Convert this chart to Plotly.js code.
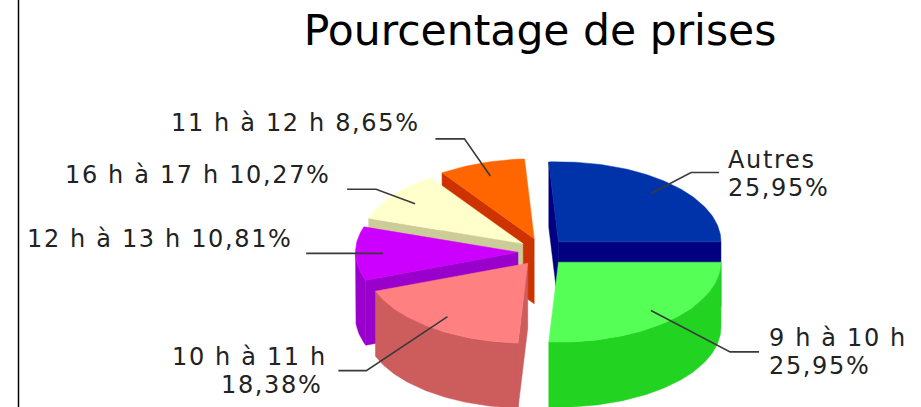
<!DOCTYPE html>
<html><head><meta charset="utf-8">
<script src="https://cdn.plot.ly/plotly-3.0.1.min.js"></script>
<style>
html,body{margin:0;padding:0;background:#fff;overflow:hidden}
#chart{width:921px;height:407px}
.annotation-text{letter-spacing:1.65px}
</style></head><body><div id="chart"></div>
<script>
// Data, clockwise from due east
const categories = ['9 h à 10 h','10 h à 11 h','12 h à 13 h','16 h à 17 h','11 h à 12 h','Autres'];
const values = [25.95,18.38,10.81,10.27,8.65,25.95];
const topColors = ['#55FF55','#FF8080','#CC00FF','#FFFFCC','#FF6600','#0033AA'];
const sideColors = ['#22D322','#CD5C5C','#9900CC','#CCCC99','#CC3300','#000080'];
// Back-to-front paint order
const paintOrder = [5,4,3,2,1,0];

// Pie geometry (pixel-scaled axes)
const cx=542, cy=252, rx=162.5, ry=80, depth=65, explodeX=24, explodeY=14;
const labelSpec = [
  {reach:1.54, anchor:'left', x:[767,767], y:[338,366], tail:29},
  {reach:1.67, anchor:'right', x:[329,324], y:[357,385], tail:-28},
  {reach:1.0, anchor:'right', x:[295], y:[239], tail:-77},
  {reach:1.13, anchor:'right', x:[333], y:[175], tail:-29},
  {reach:1.32, anchor:'right', x:[422], y:[123], tail:-29},
  {reach:1.19, anchor:'left', x:[726,726], y:[160,188], tail:28}
];

const total = values.reduce((a,b)=>a+b,0);
let acc = 0;
const slices = values.map((v,i)=>{
  const a0 = acc/total*2*Math.PI; acc += v;
  const a1 = acc/total*2*Math.PI; const mid=(a0+a1)/2;
  return {i,a0,a1,mid,ax:cx+explodeX*Math.cos(mid),ay:cy+explodeY*Math.sin(mid)};
});
function arc(s,a,b){
  const pts=[]; const n=Math.max(2,Math.ceil((b-a)/0.02));
  for(let k=0;k<=n;k++){const t=a+(b-a)*k/n;pts.push([s.ax+rx*Math.cos(t),s.ay+ry*Math.sin(t)]);}
  return pts;
}
function poly(pts,color){
  return {type:'scatter',mode:'lines',x:pts.map(p=>p[0]).concat(pts[0][0]),y:pts.map(p=>p[1]).concat(pts[0][1]),
    fill:'toself',fillcolor:color,line:{width:0.5,color:color},hoverinfo:'skip',showlegend:false};
}
const traces=[];
paintOrder.forEach(idx=>{
  const s=slices[idx], side=sideColors[idx];
  const wall=t=>{
    const rim=[s.ax+rx*Math.cos(t),s.ay+ry*Math.sin(t)];
    traces.push(poly([[s.ax,s.ay],rim,[rim[0],rim[1]+depth],[s.ax,s.ay+depth]],side));
  };
  if(Math.cos(s.a0)<0) wall(s.a0);
  if(Math.cos(s.a1)>0) wall(s.a1);
  const lo=Math.max(s.a0,0), hi=Math.min(s.a1,Math.PI);
  if(hi>lo){
    const r=arc(s,lo,hi);
    traces.push(poly(r.concat(r.slice().reverse().map(p=>[p[0],p[1]+depth])),side));
  }
  traces.push(poly([[s.ax,s.ay]].concat(arc(s,s.a0,s.a1)),topColors[idx]));
});
// Leader lines and labels
const annotations=[];
slices.forEach(s=>{
  const sp=labelSpec[s.i], c=Math.cos(s.mid), n=Math.sin(s.mid), f=0.83;
  const p0=[s.ax+rx*c*f,s.ay+ry*n*f];
  const p1=[s.ax+rx*c*sp.reach,s.ay+ry*n*sp.reach];
  if(s.i===2){p1[0]=p0[0];p1[1]=p0[1];}
  const p2=[p1[0]+sp.tail,p1[1]];
  traces.push({type:'scatter',mode:'lines',x:[p0[0],p1[0],p2[0]],y:[p0[1],p1[1],p2[1]],
    line:{color:'#3a3a3a',width:1.6},hoverinfo:'skip',showlegend:false});
  const pct=values[s.i].toFixed(2).replace('.',',')+'%';
  const lines=sp.x.length===2?[categories[s.i],pct]:[categories[s.i]+' '+pct];
  lines.forEach((t,k)=>annotations.push({xref:'x',yref:'y',x:sp.x[k],y:sp.y[k],text:t,showarrow:false,
    xanchor:sp.anchor,yanchor:'middle',font:{family:'DejaVu Sans',size:24,color:'#222222'}}));
});
const layout={
  width:921,height:407,margin:{l:0,r:0,t:0,b:0},paper_bgcolor:'#fff',plot_bgcolor:'#fff',
  title:{text:'Pourcentage de prises',x:540/921,xanchor:'center',y:0.925,yanchor:'middle',font:{family:'DejaVu Sans',size:42.5,color:'#000'}},
  xaxis:{range:[0,921],visible:false,fixedrange:true},
  yaxis:{range:[407,0],visible:false,fixedrange:true},
  annotations,
  shapes:[{type:'line',xref:'x',yref:'y',x0:18.5,x1:18.5,y0:0,y1:407,line:{color:'#000',width:1.5}}],
  showlegend:false
};
Plotly.newPlot('chart',traces,layout,{displayModeBar:false,staticPlot:true});
</script></body></html>
